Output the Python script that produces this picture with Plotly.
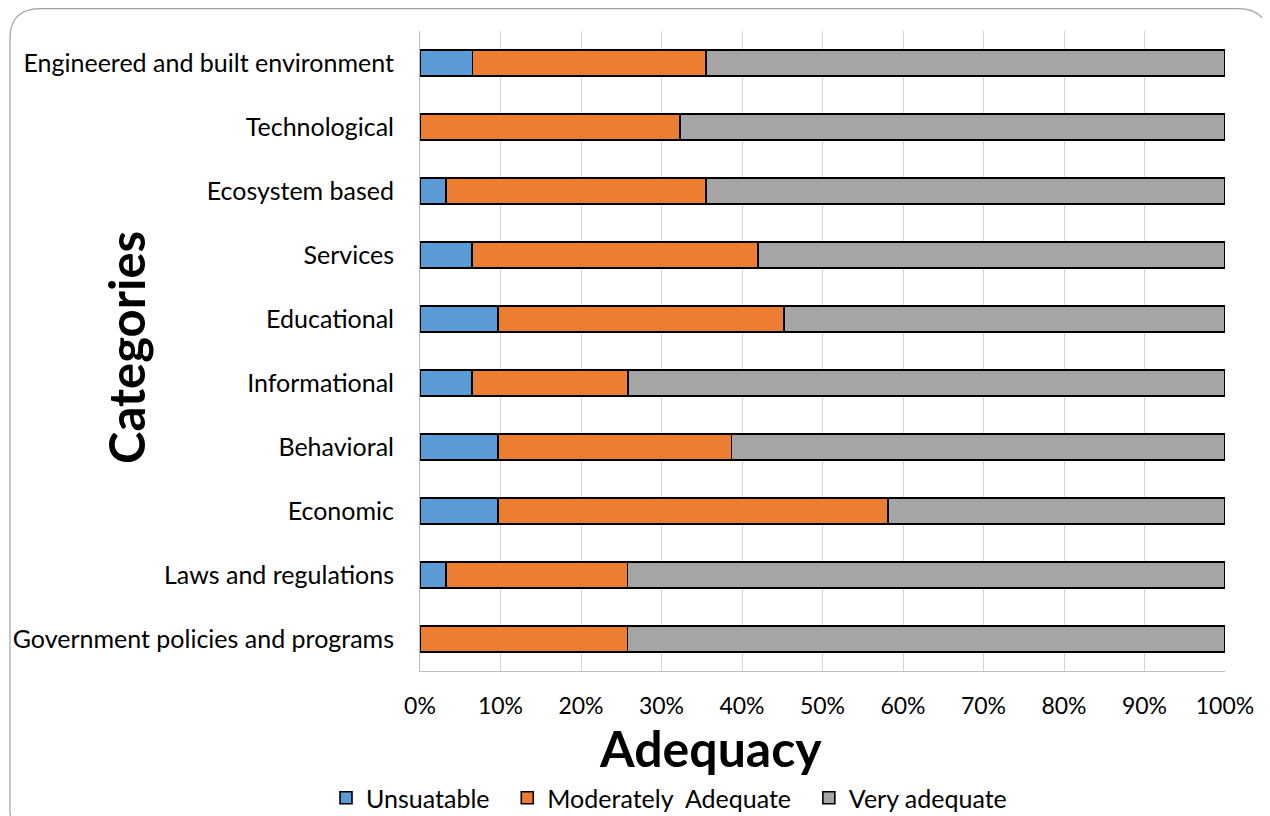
import plotly.graph_objects as go

categories = [
    "Government policies and programs",
    "Laws and regulations",
    "Economic",
    "Behavioral",
    "Informational",
    "Educational",
    "Services",
    "Ecosystem based",
    "Technological",
    "Engineered and built environment",
]
unsuitable = [0.0, 3.2, 9.7, 9.7, 6.5, 9.7, 6.5, 3.2, 0.0, 6.5]
moderate = [25.8, 22.6, 48.4, 29.0, 19.4, 35.5, 35.5, 32.3, 32.3, 29.0]
very = [74.2, 74.2, 41.9, 61.3, 74.2, 54.8, 58.1, 64.5, 67.7, 64.5]
series_names = ["Unsuatable\u00a0\u00a0", "Moderately\u00a0 Adequate\u00a0\u00a0", "Very adequate"]
colors = ["#5B9BD5", "#ED7D31", "#A5A5A5"]
tick_vals = [0, 10, 20, 30, 40, 50, 60, 70, 80, 90, 100]
tick_text = [f"{v}%" for v in tick_vals]

FONT = "Lato"
OFF = 8  # page body margin
W, H = 1270 - OFF, 816 - OFF
# plot area in screen pixels: x 420..1225, y 31..671
L = 420 - OFF
T = 31 - OFF
R = W - (1225 - OFF)
B = H - (671 - OFF)
pw, ph = W - L - R, H - T - B

def px_x(x):
    return (x - OFF - L) / pw

def px_y(y):
    return (H - B - (y - OFF)) / ph

fig = go.Figure()
for name, vals, col in zip(series_names, [unsuitable, moderate, very], colors):
    fig.add_trace(go.Bar(
        y=categories, x=vals, name=name, orientation="h",
        marker=dict(color=col, line=dict(color="black", width=1.6)),
    ))

fig.update_layout(
    width=W, height=H,
    margin=dict(l=L, r=R, t=T, b=B, pad=0, autoexpand=False),
    barmode="stack", barnorm="percent", bargap=0.59,
    plot_bgcolor="white", paper_bgcolor="white",
    font=dict(family=FONT, size=24, color="black"),
    xaxis=dict(range=[0, 100], tickvals=tick_vals, ticktext=tick_text,
               showgrid=True, gridcolor="#D4D4D4", gridwidth=1,
               showline=True, linecolor="#BFBFBF", linewidth=1,
               zeroline=False, ticks="", ticklabelstandoff=14,
               tickfont=dict(family=FONT, size=23)),
    yaxis=dict(showgrid=False, showline=True, linecolor="#BFBFBF", linewidth=1,
               ticks="", ticklabelstandoff=20,
               tickfont=dict(family=FONT, size=25)),
    legend=dict(orientation="h", x=(669 - OFF) / W, xanchor="center",
                xref="container", yref="container",
                y=1 - (798 - OFF) / H, yanchor="middle",
                font=dict(family=FONT, size=25), itemwidth=30,
                traceorder="normal"),
    showlegend=True,
)

fig.add_annotation(text="<b>Adequacy</b>", xref="paper", yref="paper",
                   x=px_x(710), y=px_y(748), showarrow=False,
                   font=dict(family=FONT, size=50, color="black"),
                   xanchor="center", yanchor="middle")
fig.add_annotation(text="<b>Categories</b>", xref="paper", yref="paper",
                   x=px_x(126), y=px_y(348), showarrow=False, textangle=-90,
                   font=dict(family=FONT, size=49, color="black"),
                   xanchor="center", yanchor="middle")

# rounded chart border
x0, x1 = px_x(10), px_x(1268)
y0, y1 = px_y(840), px_y(8.6)
rx, ry = 30 / pw, 30 / ph
path = (f"M {x0+rx},{y1} L {x1-rx},{y1} Q {x1},{y1} {x1},{y1-ry} "
        f"L {x1},{y0+ry} Q {x1},{y0} {x1-rx},{y0} L {x0+rx},{y0} "
        f"Q {x0},{y0} {x0},{y0+ry} L {x0},{y1-ry} Q {x0},{y1} {x0+rx},{y1} Z")
fig.add_shape(type="path", path=path, xref="paper", yref="paper",
              line=dict(color="#A0A0A0", width=1.2), layer="below")

fig.write_html("out.html")
